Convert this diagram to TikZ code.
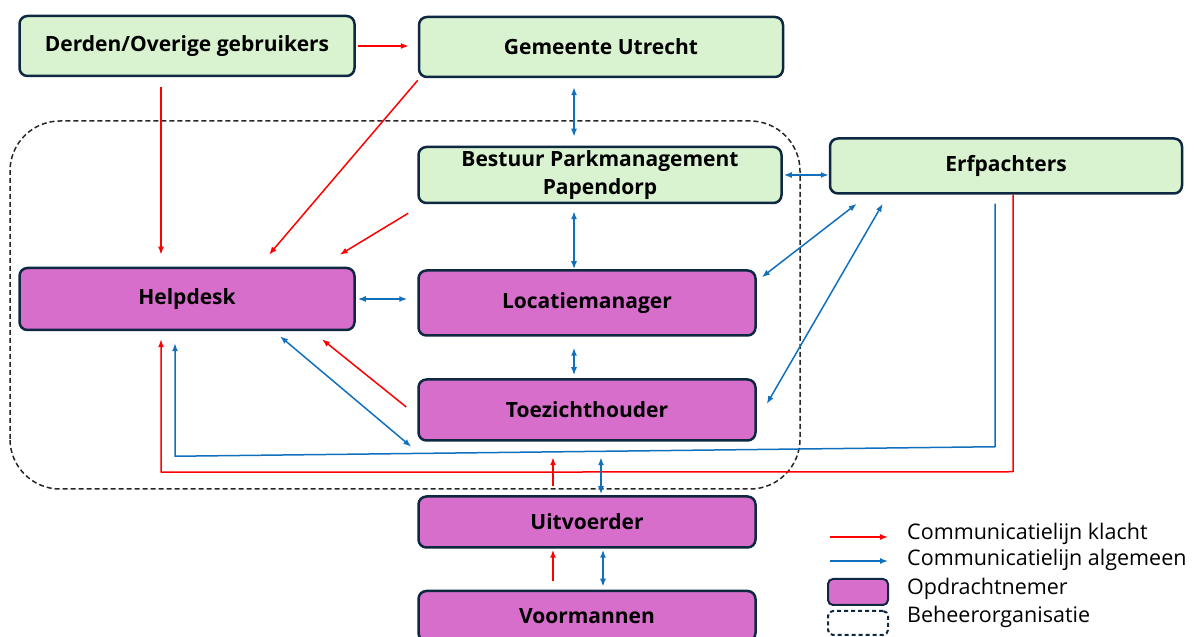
\documentclass[tikz,border=0pt]{standalone}
\usepackage{fontspec}
\setmainfont{Open Sans}
\usetikzlibrary{arrows.meta}
\definecolor{groen}{HTML}{D9F2D0}
\definecolor{paars}{HTML}{D86ECC}
\definecolor{rand}{HTML}{0E2841}
\definecolor{blauw}{HTML}{1170BE}
\begin{document}
\begin{tikzpicture}[x=1pt, y=1pt, line join=round, >={Latex[length=8pt,width=6pt]},
	box/.style={draw=rand, line width=2.5pt, rounded corners=8pt, align=center, inner sep=0pt, font=\fontsize{21}{28}\selectfont\bfseries},
	groenbox/.style={box, fill=groen},
	paarsbox/.style={box, fill=paars},
	klacht/.style={->, red, line width=1.5pt},
	algemeen/.style={<->, blauw, line width=1.5pt},
	legtext/.style={anchor=west, inner sep=0pt, font=\fontsize{21.5}{24}\selectfont}]
	\useasboundingbox (0,0) rectangle (1194,637);
	% beheerorganisatie
	\draw[black!85, line width=1.5pt, dash pattern=on 5pt off 3pt, rounded corners=50pt] (10,148) rectangle (800,516);
	% blokken
	\node[groenbox, minimum width=335pt, minimum height=60pt] (derden) at (187,591) {Derden/Overige gebruikers};
	\node[groenbox, minimum width=364pt, minimum height=60pt] (gemeente) at (601,590) {Gemeente Utrecht};
	\node[groenbox, minimum width=363pt, minimum height=56pt] (bestuur) at (600,462) {Bestuur Parkmanagement\\Papendorp};
	\node[groenbox, minimum width=352pt, minimum height=55pt] (erf) at (1006,471) {Erfpachters};
	\node[paarsbox, minimum width=335pt, minimum height=62pt] (helpdesk) at (187,338) {Helpdesk};
	\node[paarsbox, minimum width=337pt, minimum height=65pt] (loc) at (587,334) {Locatiemanager};
	\node[paarsbox, minimum width=337pt, minimum height=61pt] (toez) at (587,227) {Toezichthouder};
	\node[paarsbox, minimum width=337pt, minimum height=51pt] (uitv) at (587,115) {Uitvoerder};
	\node[paarsbox, minimum width=337pt, minimum height=50pt] (voorm) at (587,21) {Voormannen};
	% klachten
	\draw[klacht] ([xshift=2pt]derden.east) -- ([xshift=-9pt]derden.east -| gemeente.west);
	\draw[klacht] ([xshift=-26pt,yshift=-10pt]derden.south) -- ([xshift=-26pt,yshift=12pt]helpdesk.north);
	\draw[klacht] ([yshift=-2pt]gemeente.south west) -- ([xshift=82pt,yshift=12pt]helpdesk.north);
	\draw[klacht] ([xshift=-9pt,yshift=-9pt]bestuur.south west) -- ([xshift=-16pt,yshift=12pt]helpdesk.north east);
	\draw[klacht] ([xshift=-11pt,yshift=3pt]toez.west) -- ([xshift=135pt,yshift=-8pt]helpdesk.south);
	\draw[klacht] ([xshift=7pt]erf.south) -- ++(0,-277) -- ([xshift=-26pt,yshift=-141pt]helpdesk.south) -- ([xshift=-26pt,yshift=-8pt]helpdesk.south);
	\draw[klacht] ([xshift=-34pt,yshift=9pt]uitv.north) -- ++(0,29);
	\draw[klacht] ([xshift=-34pt,yshift=9pt]voorm.north) -- ([xshift=-34pt,yshift=-1pt]uitv.south);
	% algemeen
	\draw[algemeen] ([xshift=-27pt,yshift=-9pt]gemeente.south) -- ([xshift=-26pt,yshift=9pt]bestuur.north);
	\draw[algemeen] ([xshift=-26pt,yshift=-7pt]bestuur.south) -- ([xshift=-13pt]loc.north);
	\draw[algemeen] ([xshift=1pt]bestuur.east) -- (bestuur.east -| erf.west);
	\draw[algemeen] ([xshift=2pt]helpdesk.east) -- ([xshift=-10pt]helpdesk.east -| loc.west);
	\draw[algemeen] ([xshift=-13pt,yshift=-11pt]loc.south) -- ([xshift=-13pt,yshift=3pt]toez.north);
	\draw[algemeen] ([xshift=28pt,yshift=-9pt]erf.south west) -- ([xshift=5pt,yshift=-8pt]loc.north east);
	\draw[algemeen] ([xshift=54pt,yshift=-9pt]erf.south west) -- ([xshift=10pt,yshift=6pt]toez.east);
	\draw[algemeen] ([xshift=93pt,yshift=-5pt]helpdesk.south) -- ([xshift=-6pt,yshift=-5pt]toez.south west);
	\draw[algemeen, ->] ([xshift=-11pt,yshift=-9pt]erf.south) -- ++(0,-243) -- ([xshift=-12pt,yshift=-125pt]helpdesk.south) -- ([xshift=-12pt,yshift=-12pt]helpdesk.south);
	\draw[algemeen] ([xshift=14pt,yshift=1pt]uitv.north) -- ++(0,37);
	\draw[algemeen] ([xshift=16pt,yshift=3pt]voorm.north) -- ([xshift=16pt,yshift=-1pt]uitv.south);
	% legenda
	\node[legtext] (lk) at (907,103) {Communicatielijn klacht};
	\node[legtext] (la) at (907,77) {Communicatielijn algemeen};
	\node[legtext] (lo) at (907,48) {Opdrachtnemer};
	\node[legtext] (lb) at (907,20) {Beheerorganisatie};
	\draw[klacht] ([xshift=-77pt,yshift=-3pt]lk.west) -- ([xshift=-19pt,yshift=-3pt]lk.west);
	\draw[blauw, line width=1.5pt, ->] ([xshift=-77pt,yshift=-1pt]la.west) -- ([xshift=-19pt,yshift=-1pt]la.west);
	\node[paarsbox, line width=2pt, rounded corners=5pt, minimum width=60pt, minimum height=26pt] (lobox) at (858,45) {};
	\node[draw=rand, line width=2pt, dash pattern=on 4pt off 3pt, rounded corners=5pt, minimum width=60pt, minimum height=24pt, inner sep=0pt] (lbbox) at (858,14) {};
\end{tikzpicture}
\end{document}
